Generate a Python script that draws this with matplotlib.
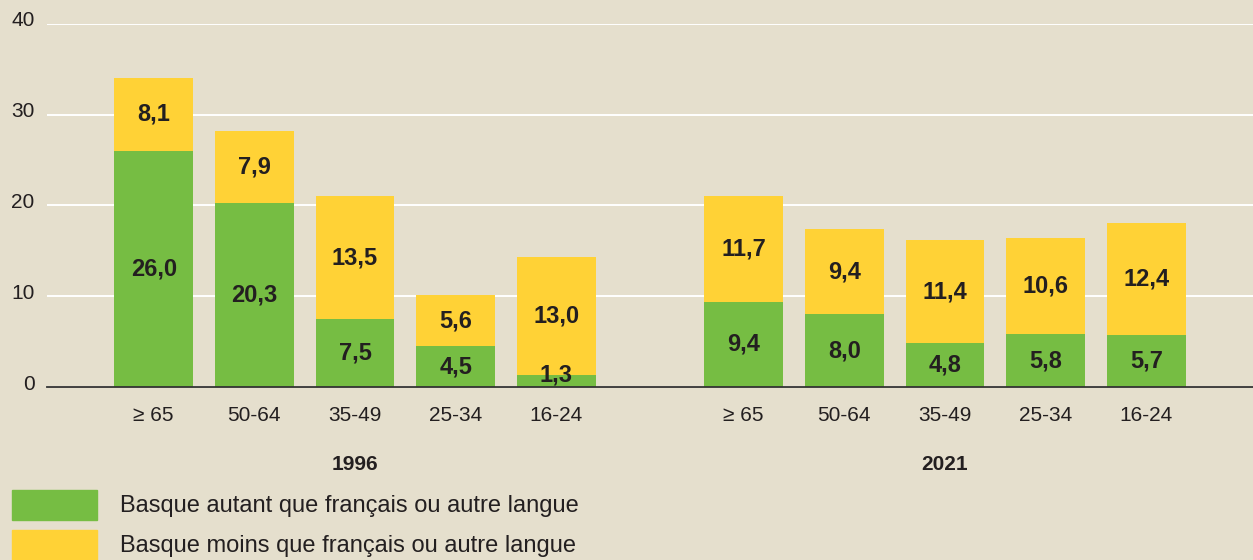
import matplotlib.pyplot as plt
from matplotlib.patches import Rectangle
from matplotlib.transforms import ScaledTranslation, blended_transform_factory

# age groups and survey years
ages = ["≥ 65", "50-64", "35-49", "25-34", "16-24"]
years = ["1996", "2021"]

# share (%) of each age group, per year
basque_autant_1996 = [26.0, 20.3, 7.5, 4.5, 1.3]
basque_moins_1996 = [8.1, 7.9, 13.5, 5.6, 13.0]
basque_autant_2021 = [9.4, 8.0, 4.8, 5.8, 5.7]
basque_moins_2021 = [11.7, 9.4, 11.4, 10.6, 12.4]

legend_labels = ["Basque autant que français ou autre langue",
                 "Basque moins que français ou autre langue"]

bg = "#e5dfcd"
green = "#76bd43"
yellow = "#ffd236"
ink = "#231f20"

plt.rcParams["font.family"] = ["Liberation Sans", "DejaVu Sans"]

fig = plt.figure(figsize=(12.53, 5.6), dpi=100, facecolor=bg)
ax = fig.add_axes([47 / 1253, 1 - 387 / 560, 1 - 47 / 1253, (387 - 24) / 560])
ax.set_facecolor(bg)

gap = 1.86
x96 = list(range(5))
x21 = [i + 4 + gap for i in range(5)]
width = 0.78

def fmt(v):
    return f"{v:.1f}".replace(".", ",")

for xs, g, y in [(x96, basque_autant_1996, basque_moins_1996),
                 (x21, basque_autant_2021, basque_moins_2021)]:
    ax.bar(xs, g, width=width, color=green, zorder=3)
    ax.bar(xs, y, width=width, bottom=g, color=yellow, zorder=3)
    for x, gv, yv in zip(xs, g, y):
        ax.text(x, max(gv / 2, 1.3), fmt(gv), ha="center", va="center",
                fontsize=17, fontweight="bold", color=ink, zorder=4)
        ax.text(x, gv + yv / 2, fmt(yv), ha="center", va="center",
                fontsize=17, fontweight="bold", color=ink, zorder=4)

ax.set_xlim(-1.06, x21[-1] + 1.06)
ax.set_ylim(0, 40)
ax.set_yticks([0, 10, 20, 30, 40])
ax.set_yticklabels(["0", "10", "20", "30", "40"], fontsize=15, color=ink)
ax.set_xticks(x96 + x21)
ax.set_xticklabels(ages + ages, fontsize=15, color=ink)
ax.tick_params(axis="y", length=0, pad=9)
ax.tick_params(axis="x", length=0, pad=14)
for lbl in ax.get_yticklabels():
    lbl.set_transform(lbl.get_transform() + ScaledTranslation(0, 0.05, fig.dpi_scale_trans))

for s in ["top", "right", "left"]:
    ax.spines[s].set_visible(False)
ax.spines["bottom"].set_color("#333333")
ax.spines["bottom"].set_linewidth(1.3)
ax.spines["bottom"].set_zorder(5)
ax.yaxis.grid(True, color="white", linewidth=1.4, zorder=0)
ax.set_axisbelow(True)

# year labels below each group
tr = blended_transform_factory(ax.transData, fig.transFigure)
for xs, yr in [(x96, years[0]), (x21, years[1])]:
    ax.text(xs[2], 1 - 464 / 560, yr, transform=tr, ha="center", va="center",
            fontsize=15, fontweight="bold", color=ink)

# legend
for i, (c, lab) in enumerate(zip([green, yellow], legend_labels)):
    y0 = 490 + i * 40
    fig.add_artist(Rectangle((12 / 1253, 1 - (y0 + 30) / 560), 85 / 1253, 30 / 560,
                             transform=fig.transFigure, color=c))
    fig.text(120 / 1253, 1 - (y0 + 16) / 560, lab, ha="left", va="center",
             fontsize=17, color=ink)

fig.savefig("out.png", dpi=100, facecolor=bg)
